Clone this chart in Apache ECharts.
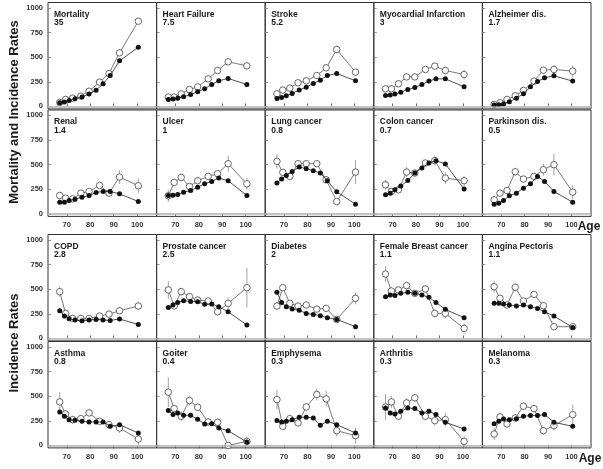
<!DOCTYPE html>
<html><head><meta charset="utf-8">
<script src="https://cdn.jsdelivr.net/npm/echarts@6/dist/echarts.min.js"></script>
<style>html,body{margin:0;padding:0;background:#fff}#c{width:603px;height:469px}</style>
</head><body><div id="c"></div><script>
// Age positions (filled = mortality/incidence series A, open = series B)
const AGE_F = [67, 69, 71, 73.5, 76.5, 79.5, 82.5, 85.5, 88.5, 92.5, 100.5];
const AGE_O = [67, 69.5, 72.5, 76, 79.5, 84, 88, 92.5, 100.5];
const X_TICKS = [70, 80, 90, 100];
const Y_TICKS = [0, 250, 500, 750, 1000];

const mortalityF = [37, 44, 61, 78, 95, 125, 165, 230, 314, 463, 601];
const mortalityO = [40, 71, 84, 105, 155, 247, 334, 544, 865];
const mortalityE = [5, 5, 5, 5, 8, 10, 10, 15, 15];

const heartF = [70, 75, 82, 98, 120, 150, 180, 223, 260, 284, 223];
const heartO = [95, 95, 128, 172, 199, 280, 365, 453, 412];
const heartE = [10, 10, 10, 10, 10, 15, 15, 20, 35];

const strokeF = [81, 91, 108, 132, 166, 196, 233, 267, 314, 334, 260];
const strokeO = [128, 166, 186, 240, 260, 314, 392, 578, 348];
const strokeE = [10, 10, 10, 10, 15, 15, 20, 40, 30];

const miF = [112, 115, 125, 145, 172, 193, 223, 257, 280, 280, 199];
const miO = [179, 179, 230, 300, 300, 375, 409, 365, 324];
const miE = [15, 15, 15, 15, 15, 20, 25, 40, 50];

const alzF = [14, 17, 24, 47, 84, 128, 199, 253, 290, 311, 257];
const alzO = [20, 37, 71, 108, 162, 257, 368, 375, 358];
const alzE = [5, 8, 8, 10, 15, 20, 35, 45, 55];

const renalF = [119, 119, 136, 150, 170, 187, 218, 228, 228, 204, 126];
const renalO = [187, 160, 153, 211, 228, 289, 211, 374, 286];
const renalE = [40, 20, 20, 20, 20, 20, 25, 70, 75];

const ulcerF = [187, 190, 198, 220, 238, 272, 306, 330, 364, 337, 187];
const ulcerO = [184, 320, 371, 279, 337, 381, 408, 510, 306];
const ulcerE = [60, 30, 40, 25, 25, 25, 30, 80, 60];

const lungF = [313, 354, 391, 432, 476, 459, 439, 415, 337, 224, 99];
const lungO = [534, 422, 381, 510, 510, 510, 347, 126, 425];
const lungE = [75, 30, 30, 30, 25, 25, 30, 30, 120];

const colonF = [194, 211, 245, 283, 340, 415, 466, 517, 541, 507, 252];
const colonO = [296, 228, 245, 425, 415, 517, 541, 364, 337];
const colonE = [50, 30, 30, 50, 30, 30, 50, 60, 50];

const parkF = [99, 109, 136, 184, 211, 262, 306, 381, 330, 228, 119];
const parkO = [143, 211, 238, 428, 354, 381, 449, 500, 221];
const parkE = [40, 30, 30, 40, 30, 30, 60, 110, 70];

const copdF = [281, 227, 200, 186, 180, 186, 193, 186, 183, 197, 142];
const copdO = [475, 254, 203, 203, 203, 227, 247, 281, 329];
const copdE = [50, 20, 15, 15, 15, 15, 15, 30, 45];

const prostF = [315, 339, 366, 383, 375, 373, 346, 349, 322, 271, 136];
const prostO = [492, 329, 475, 424, 390, 380, 271, 356, 515];
const prostE = [90, 30, 40, 30, 25, 25, 40, 60, 200];

const diabF = [468, 366, 322, 298, 285, 254, 244, 231, 210, 193, 119];
const diabO = [329, 515, 356, 329, 339, 298, 305, 193, 407];
const diabE = [40, 30, 20, 15, 15, 15, 20, 30, 60];

const breastF = [424, 441, 437, 458, 468, 458, 441, 417, 366, 295, 210];
const breastO = [654, 481, 492, 536, 458, 502, 254, 254, 102];
const breastE = [80, 40, 30, 40, 30, 40, 40, 50, 50];

const anginaF = [356, 356, 349, 339, 329, 339, 322, 305, 271, 227, 112];
const anginaO = [525, 407, 339, 519, 380, 447, 332, 119, 119];
const anginaE = [60, 30, 20, 40, 25, 30, 30, 20, 30];

const asthmaF = [340, 296, 262, 255, 245, 238, 238, 238, 194, 211, 126];
const asthmaO = [442, 320, 262, 272, 330, 245, 211, 177, 65];
const asthmaE = [100, 30, 40, 25, 20, 30, 40, 50, 60];

const goiterF = [354, 313, 330, 306, 306, 265, 218, 221, 177, 150, 34];
const goiterO = [541, 374, 296, 456, 388, 238, 235, 0, 41];
const goiterE = [150, 30, 50, 50, 30, 40, 40, 20, 50];

const emphF = [252, 238, 245, 262, 286, 286, 279, 204, 245, 211, 126];
const emphO = [466, 194, 272, 228, 391, 517, 473, 150, 99];
const emphE = [100, 30, 20, 20, 30, 60, 80, 60, 80];

const arthF = [381, 330, 320, 347, 381, 374, 330, 347, 313, 235, 167];
const arthO = [390, 442, 296, 432, 483, 296, 252, 262, 41];
const arthE = [130, 60, 30, 50, 40, 40, 50, 70, 50];

const melF = [221, 245, 269, 262, 272, 296, 303, 303, 313, 235, 194];
const melO = [116, 289, 218, 279, 398, 374, 150, 201, 313];
const melE = [60, 40, 40, 40, 40, 40, 40, 50, 100];

const panelNames = ['Mortality','Heart Failure','Stroke','Myocardial Infarction','Alzheimer dis.',
  'Renal','Ulcer','Lung cancer','Colon cancer','Parkinson dis.',
  'COPD','Prostate cancer','Diabetes','Female Breast cancer','Angina Pectoris',
  'Asthma','Goiter','Emphysema','Arthritis','Melanoma'];
const panelSubs = ['35','7.5','5.2','3','1.7','1.4','1','0.8','0.7','0.5',
  '2.8','2.5','2','1.1','1.1','0.8','0.4','0.3','0.3','0.3'];
const filledSets = [mortalityF, heartF, strokeF, miF, alzF, renalF, ulcerF, lungF, colonF, parkF,
  copdF, prostF, diabF, breastF, anginaF, asthmaF, goiterF, emphF, arthF, melF];
const openSets = [mortalityO, heartO, strokeO, miO, alzO, renalO, ulcerO, lungO, colonO, parkO,
  copdO, prostO, diabO, breastO, anginaO, asthmaO, goiterO, emphO, arthO, melO];
const errSets = [mortalityE, heartE, strokeE, miE, alzE, renalE, ulcerE, lungE, colonE, parkE,
  copdE, prostE, diabE, breastE, anginaE, asthmaE, goiterE, emphE, arthE, melE];

// ---- layout ----
const FONT = 'Liberation Sans, Arial, sans-serif';
const COL_L = 48, COL_W = 108.6;
const ROW_TOPS = [2.5, 110, 234.5, 341.5];
const ROW_H = 106.4;

const grids = [], xAxes = [], yAxes = [], series = [], graphics = [];
for (let i = 0; i < 20; i++) {
  const r = Math.floor(i / 5), c = i % 5;
  const left = COL_L + c * COL_W, top = ROW_TOPS[r];
  grids.push({left: left, top: top, width: COL_W, height: ROW_H, show: true,
    borderColor: '#333', borderWidth: 1, backgroundColor: 'transparent', outerBoundsMode: 'none'});
  const labelRow = (r === 1 || r === 3);
  xAxes.push({type: 'value', gridIndex: i, min: 62, max: 108.3,
    axisLine: {show: false}, splitLine: {show: false},
    axisTick: {show: true, inside: !labelRow, length: 3, customValues: X_TICKS, lineStyle: {color: '#555', width: 0.8}},
    axisLabel: {show: labelRow, customValues: X_TICKS, margin: 5, color: '#333', fontSize: 7.5,
      fontWeight: 'bold', fontFamily: FONT, formatter: v => String(v)}});
  yAxes.push({type: 'value', gridIndex: i, min: -25, max: 1055,
    axisLine: {show: false}, splitLine: {show: false},
    axisTick: {show: true, inside: true, length: 3, customValues: Y_TICKS, lineStyle: {color: '#777', width: 0.8}},
    axisLabel: {show: c === 0, customValues: Y_TICKS, margin: 5, color: '#333', fontSize: 7.5,
      fontWeight: 'bold', fontFamily: FONT, formatter: v => String(v)}});
  const F = filledSets[i], O = openSets[i], E = errSets[i];
  series.push({type: 'custom', xAxisIndex: i, yAxisIndex: i, silent: true, z: 1,
    encode: {x: 0, y: [1, 2]},
    data: AGE_O.map((a, k) => [a, O[k] - E[k], O[k] + E[k]]),
    renderItem: function (params, api) {
      const p1 = api.coord([api.value(0), api.value(1)]);
      const p2 = api.coord([api.value(0), api.value(2)]);
      return {type: 'line', shape: {x1: p1[0], y1: p1[1], x2: p2[0], y2: p2[1]},
        style: {stroke: '#8a8a8a', lineWidth: 0.8}};
    }});
  series.push({type: 'line', xAxisIndex: i, yAxisIndex: i, z: 2, silent: true,
    data: AGE_O.map((a, k) => [a, O[k]]),
    symbol: 'circle', symbolSize: 6.5, showAllSymbol: true,
    lineStyle: {color: '#555', width: 0.8},
    itemStyle: {color: '#fff', borderColor: '#444', borderWidth: 0.8}});
  series.push({type: 'line', xAxisIndex: i, yAxisIndex: i, z: 3, silent: true,
    data: AGE_F.map((a, k) => [a, F[k]]),
    symbol: 'circle', symbolSize: 5, showAllSymbol: true,
    lineStyle: {color: '#222', width: 0.8},
    itemStyle: {color: '#111', borderWidth: 0},
    markLine: {silent: true, symbol: 'none', label: {show: false},
      lineStyle: {color: '#b0b0b0', width: 1.5, type: 'solid'},
      data: [{yAxis: 0}]}});
  graphics.push({type: 'text', left: left + 6, top: top + 7.5, z: 10,
    style: {text: panelNames[i] + '\n' + panelSubs[i], fill: '#1a1a1a',
      font: 'bold 8.5px ' + FONT, lineHeight: 8.5}});
}
graphics.push({type: 'text', x: 14, y: 112, rotation: Math.PI / 2,
  style: {text: 'Mortality and Incidence Rates', fill: '#1a1a1a', font: 'bold 13px ' + FONT,
    align: 'center', verticalAlign: 'middle'}});
graphics.push({type: 'text', x: 14, y: 343, rotation: Math.PI / 2,
  style: {text: 'Incidence Rates', fill: '#1a1a1a', font: 'bold 13px ' + FONT,
    align: 'center', verticalAlign: 'middle'}});
graphics.push({type: 'text', x: 589, y: 227,
  style: {text: 'Age', fill: '#1a1a1a', font: 'bold 12px ' + FONT, align: 'center', verticalAlign: 'middle'}});
graphics.push({type: 'text', x: 590, y: 459,
  style: {text: 'Age', fill: '#1a1a1a', font: 'bold 12px ' + FONT, align: 'center', verticalAlign: 'middle'}});

const chart = echarts.init(document.getElementById('c'), null, {renderer: 'canvas'});
chart.setOption({animation: false, backgroundColor: '#fff',
  grid: grids, xAxis: xAxes, yAxis: yAxes, series: series, graphic: graphics});
</script></body></html>
